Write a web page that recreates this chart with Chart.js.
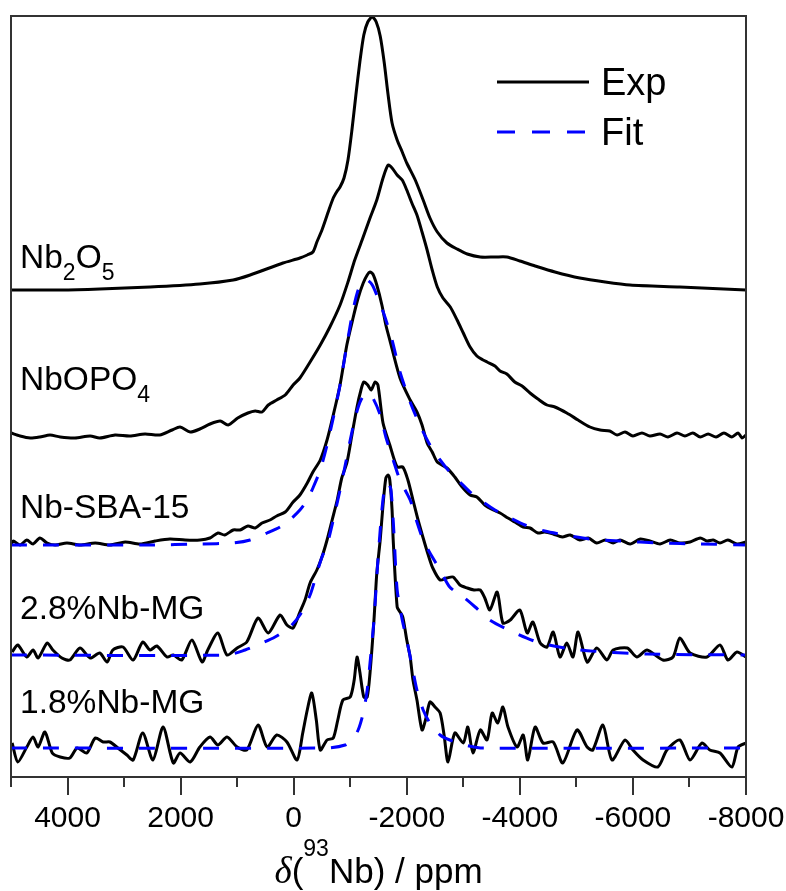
<!DOCTYPE html>
<html>
<head>
<meta charset="utf-8">
<title>93Nb NMR spectra</title>
<script src="https://cdn.jsdelivr.net/npm/chart.js@4.4.1/dist/chart.umd.min.js"></script>
<style>
    html, body { margin: 0; padding: 0; background: #fff; }
    #wrap { width: 786px; height: 891px; position: relative; }
</style>
</head>
<body>
<div id="wrap"><canvas id="nmr-chart"></canvas></div>
<script>
// chemical shift range (ppm), drawn reversed as usual for NMR
const xMin = -8000;
const xMax = 5000;
const yMax = 761;

// vertical offsets used to stack the spectra (a.u.)
const offsets = [487, 340, 232, 122, 29];

// Nb2O5, experimental
const nb2o5Ppm = [5000, 4130, 3430, 2540, 1660, 1070, 770, 190, -110, -240,
    -340, -410, -500, -610, -700, -770, -820, -890, -960, -1030,
    -1100, -1170, -1240, -1310, -1390, -1460, -1530, -1600, -1670, -1740,
    -1830, -1920, -2000, -2150, -2290, -2410, -2540, -2710, -2890, -3070,
    -3300, -3560, -3770, -4000, -4270, -4620, -5060, -5510, -5950, -6830, -8000];
const nb2o5Int = [0, 0, 1, 3, 6, 10, 15, 27, 32, 35,
    38, 48, 60, 78, 92, 99, 103, 112, 130, 160,
    195, 228, 255, 268, 273, 268, 254, 228, 195, 167,
    150, 138, 127, 110, 90, 72, 58, 47, 41, 36,
    33, 33, 33, 29, 24, 18, 12, 8, 5, 3, 0];

// NbOPO4, experimental
const nbopo4Ppm = [5000, 4840, 4660, 4490, 4310, 4130, 3870, 3600, 3430, 3160,
    2900, 2630, 2370, 2150, 2010, 1830, 1660, 1480, 1300, 1160,
    990, 810, 680, 560, 450, 300, 150, 10, -110, -290,
    -470, -640, -820, -960, -1080, -1210, -1350, -1470, -1580, -1670,
    -1740, -1830, -1920, -2000, -2090, -2180, -2270, -2360, -2450, -2540,
    -2640, -2770, -2890, -3000, -3120, -3240, -3350, -3420, -3560, -3650,
    -3770, -3910, -4040, -4180, -4320, -4480, -4620, -4830, -5030, -5240,
    -5420, -5590, -5720, -5860, -6000, -6160, -6300, -6480, -6620, -6780,
    -6920, -7060, -7190, -7330, -7470, -7610, -7750, -7860, -7930, -8000];
const nbopo4Int = [4, 1, -1, 0, 2, 0, -1, 1, -1, 2,
    1, 3, 2, 7, 10, 5, 8, 13, 16, 12,
    19, 24, 26, 25, 32, 37, 42, 52, 59, 75,
    92, 110, 132, 155, 177, 197, 219, 237, 259, 272,
    269, 262, 257, 247, 234, 222, 205, 187, 167, 150,
    139, 130, 117, 104, 90, 81, 77, 75, 71, 66,
    63, 55, 51, 44, 38, 32, 30, 24, 17, 10,
    7, 6, 2, 5, 1, 4, 1, 3, 0, 4,
    1, 4, 0, 3, 0, 4, 0, 4, -1, 2];

// Nb-SBA-15, experimental and fit
const sbaPpm = [5000, 4960, 4840, 4720, 4610, 4490, 4360, 4220, 4010, 3780,
    3510, 3250, 2980, 2720, 2450, 2190, 1920, 1660, 1480, 1340,
    1220, 1070, 950, 810, 680, 560, 420, 300, 150, 10,
    -110, -240, -340, -470, -590, -700, -820, -940, -1050, -1140,
    -1230, -1300, -1350, -1400, -1470, -1560, -1630,
    -1700, -1880, -2060, -2180, -2270, -2360, -2450, -2540, -2710, -2850,
    -2980, -3120, -3240, -3380, -3530, -3650, -3790, -3910, -4060, -4180,
    -4320, -4440, -4590, -4750, -4890, -5060, -5210, -5360, -5510, -5650,
    -5770, -5950, -6130, -6300, -6480, -6660, -6830, -7010, -7190, -7310,
    -7420, -7540, -7680, -7840, -8000];
const sbaInt = [0, 4, 0, 5, 1, 7, 2, 0, 2, 0,
    2, 0, 3, 1, 4, 6, 5, 5, 7, 12,
    10, 15, 15, 19, 17, 22, 25, 29, 33, 43,
    50, 62, 73, 85, 105, 130, 160, 200, 227, 247,
    262, 270, 273, 271, 260, 240, 220,
    205, 167, 145, 133, 120, 102, 93, 83, 77, 68,
    58, 50, 48, 40, 35, 32, 27, 23, 18, 17,
    12, 13, 11, 8, 10, 5, 7, 2, 5, 2,
    5, 1, 6, 4, 1, 5, 2, 3, 7, 4,
    5, 2, 5, 1, 3];
const sbaFitPpm = [5000, 2540, 1660, 1070, 770, 470, 240, 70, -110, -240,
    -340, -470, -590, -700, -820, -940, -1050, -1140, -1230, -1300,
    -1390, -1490, -1620, -1740, -1880, -2060, -2230, -2410, -2590, -2760,
    -2940, -3120, -3300, -3560, -3830, -4090, -4440, -4800, -5240, -5770,
    -6480, -7190, -8000];
const sbaFitInt = [0, 0, 1, 2, 5, 12, 18, 25, 35, 45,
    57, 75, 100, 127, 160, 200, 235, 255, 264, 265,
    260, 247, 227, 205, 173, 143, 120, 100, 85, 73,
    63, 53, 45, 35, 27, 20, 14, 10, 6, 4,
    2, 1, 0];

// 2.8%Nb-MG, experimental and fit
const mg28Ppm = [4980, 4880, 4720, 4610, 4520, 4360, 4260, 4100, 3960, 3780,
    3600, 3430, 3300, 3200, 3020, 2840, 2670, 2540, 2420, 2240,
    2130, 1980, 1800, 1620, 1520, 1340, 1180, 1000, 830, 630,
    450, 240, 120, 10, -110, -200, -290, -410, -500, -590,
    -680, -770, -850, -940, -1030, -1120, -1190, -1240, -1310, -1370,
    -1440, -1490, -1580, -1700, -1830, -1930, -2020, -2110, -2200, -2290,
    -2380, -2460, -2590, -2710, -2820, -2940, -3070, -3190, -3300, -3380,
    -3470, -3600, -3700, -3830, -4000, -4130, -4230, -4360, -4480, -4590,
    -4710, -4830, -4940, -5030, -5190, -5360, -5540, -5650, -5900, -6070,
    -6250, -6530, -6710, -6830, -7010, -7310, -7540, -7680, -7840, -8000];
const mg28Int = [3, 10, -2, 5, -3, 12, 5, -3, -5, 7,
    -3, 2, -7, 5, 8, -5, 13, 5, 9, -2,
    0, -5, 15, -7, 5, 22, 0, 7, 13, 37,
    22, 40, 30, 27, 43, 55, 72, 85, 98, 115,
    135, 155, 177, 192, 220, 248, 265, 273, 270, 265,
    273, 270, 232, 210, 188, 188, 175, 155, 135, 117,
    100, 87, 75, 77, 78, 70, 67, 65, 65, 57,
    45, 63, 32, 35, 45, 22, 33, 12, 8, 23,
    -2, 12, -2, 23, -7, 7, -5, 5, 7, -2,
    5, -5, -2, 17, 2, -2, 10, -5, 3, -2];
const mg28FitPpm = [5000, 1180, 860, 600, 330, 70, -110, -290, -410, -500,
    -590, -700, -820, -930, -1000, -1100, -1190, -1300, -1400, -1530,
    -1630, -1760, -1880, -2060, -2180, -2290, -2410, -2590, -2760, -3000,
    -3210, -3470, -3880, -4360, -5060, -6250, -8000];
const mg28FitInt = [0, 0, 5, 11, 18, 28, 40, 60, 82, 98,
    110, 135, 165, 195, 215, 240, 255, 262, 257, 240,
    218, 195, 175, 155, 133, 115, 102, 85, 68, 58,
    48, 35, 23, 12, 5, 1, 0];

// 1.8%Nb-MG, experimental and fit
const mg18Ppm = [4980, 4880, 4720, 4610, 4520, 4400, 4270, 4130, 3960, 3830,
    3660, 3510, 3370, 3250, 3110, 2950, 2840, 2670, 2490, 2310,
    2130, 2010, 1830, 1660, 1480, 1340, 1180, 1000, 830, 630,
    470, 300, 120, -60, -160, -240, -320, -400, -470, -590,
    -700, -780, -870, -1000, -1070, -1120, -1170, -1240, -1300, -1350,
    -1420, -1470, -1530, -1580, -1630, -1670, -1700, -1740, -1760, -1830,
    -1880, -1930, -2000, -2060, -2110, -2180, -2270, -2340, -2410, -2500,
    -2590, -2660, -2730, -2850, -3000, -3080, -3170, -3300, -3420, -3510,
    -3610, -3700, -3790, -3950, -4060, -4140, -4270, -4410, -4590, -4760,
    -5010, -5190, -5290, -5470, -5630, -5860, -6000, -6180, -6440, -6600,
    -6830, -7010, -7220, -7360, -7540, -7750, -7860, -8000];
const mg18Int = [5, -14, 1, 11, 1, 16, -5, -9, -10, 0,
    -5, 10, 6, 6, 0, -7, -12, 15, -12, 21,
    -15, -5, -14, 1, 11, 3, 11, 1, -2, 23,
    1, 13, 6, -12, 15, 38, 55, 28, -2, 8,
    10, 28, 48, 51, 68, 91, 76, 51, 51, 75,
    128, 175, 208, 243, 270, 273, 268, 238, 208, 141,
    136, 131, 108, 91, 68, 48, 18, 30, 46, 41,
    35, 13, -14, 15, 5, 21, -5, 18, 8, 35,
    25, 41, 21, 1, 13, -12, 21, 5, 6, -15,
    18, 1, -2, 23, -12, 8, -2, -12, -19, -2,
    8, -12, 5, -2, -5, -19, 1, 5];
const mg18FitPpm = [5000, -590, -910, -1030, -1140, -1230, -1300, -1350, -1420, -1490,
    -1560, -1610, -1670, -1720, -1770, -1830, -1920, -2000, -2090, -2180,
    -2290, -2410, -2590, -2760, -3030, -3350, -8000];
const mg18FitInt = [0, 0, 3, 8, 18, 35, 58, 85, 128, 188,
    238, 260, 265, 258, 218, 158, 128, 108, 83, 58,
    38, 25, 13, 8, 3, 0, 0];

// sample names; second entry of a part marks a subscript
const sampleLabels = [
    [['Nb'], ['2', 'sub'], ['O'], ['5', 'sub']],
    [['NbOPO'], ['4', 'sub']],
    [['Nb-SBA-15']],
    [['2.8%Nb-MG']],
    [['1.8%Nb-MG']]
];

// styling / placement
const labelPpm = 4840;
const labelLift = [22, 47, 27, 36, 35];
const expColor = '#000000';
const fitColor = '#0000ff';
const fitDash = [16, 16];
const frameColor = '#333333';
const sans = "'Liberation Sans', Arial, sans-serif";

function toPoints(ppm, vals, offset) {
    return ppm.map((p, i) => ({ x: p, y: vals[i] + offset }));
}

function expSet(label, ppm, vals, offset) {
    return {
        label: label,
        data: toPoints(ppm, vals, offset),
        borderColor: expColor,
        borderWidth: 3,
        pointRadius: 0,
        tension: 0.25,
        fill: false
    };
}

function fitSet(label, ppm, vals, offset) {
    return {
        label: label,
        data: toPoints(ppm, vals, offset),
        borderColor: fitColor,
        borderWidth: 3,
        borderDash: fitDash,
        pointRadius: 0,
        tension: 0.25,
        fill: false
    };
}

function drawParts(ctx, parts, x, y, size) {
    let cx = x;
    parts.forEach(p => {
        const sub = p[1] === 'sub';
        ctx.font = (sub ? Math.round(size * 0.7) : size) + 'px ' + sans;
        ctx.fillText(p[0], cx, sub ? y + 12 : y);
        cx += ctx.measureText(p[0]).width;
    });
}

const overlayPlugin = {
    id: 'overlay',
    afterDraw(chart) {
        const ctx = chart.ctx;
        const a = chart.chartArea;
        const xs = chart.scales.x;
        const ys = chart.scales.y;
        ctx.save();

        // frame
        ctx.strokeStyle = frameColor;
        ctx.lineWidth = 2;
        ctx.strokeRect(a.left, a.top, a.right - a.left, a.bottom - a.top);

        // major / minor tick marks, pointing outward
        xs.ticks.forEach(t => {
            const px = Math.round(xs.getPixelForValue(t.value));
            const len = t.value % 2000 === 0 ? 18 : 10;
            ctx.beginPath();
            ctx.moveTo(px, a.bottom);
            ctx.lineTo(px, a.bottom + len);
            ctx.stroke();
        });

        // sample names
        ctx.fillStyle = '#000';
        ctx.textBaseline = 'alphabetic';
        ctx.textAlign = 'left';
        sampleLabels.forEach((parts, i) => {
            drawParts(ctx, parts, xs.getPixelForValue(labelPpm),
                ys.getPixelForValue(offsets[i] + labelLift[i]), 33.5);
        });

        // legend
        const lx = a.right - 249;
        const legendItems = [
            { text: 'Exp', color: expColor, dash: [] },
            { text: 'Fit', color: fitColor, dash: [18, 17] }
        ];
        legendItems.forEach((it, i) => {
            const ly = a.top + 66 + i * 50;
            ctx.strokeStyle = it.color;
            ctx.lineWidth = 3;
            ctx.setLineDash(it.dash);
            ctx.beginPath();
            ctx.moveTo(lx, ly);
            ctx.lineTo(lx + 92, ly);
            ctx.stroke();
            ctx.setLineDash([]);
            ctx.font = '38px ' + sans;
            ctx.fillText(it.text, lx + 104, ly + 13);
        });

        // axis title: δ(93Nb) / ppm
        const ty = a.bottom + 106;
        const pieces = [
            { t: 'δ', font: "italic 37px 'Liberation Serif', serif", dy: 0 },
            { t: '(', font: '35px ' + sans, dy: 0 },
            { t: '93', font: '23px ' + sans, dy: -27 },
            { t: 'Nb) / ppm', font: '35px ' + sans, dy: 0 }
        ];
        let total = 0;
        pieces.forEach(p => { ctx.font = p.font; p.w = ctx.measureText(p.t).width; total += p.w; });
        let tx = (a.left + a.right) / 2 - total / 2;
        pieces.forEach(p => {
            ctx.font = p.font;
            ctx.fillText(p.t, tx, ty + p.dy);
            tx += p.w;
        });
        ctx.restore();
    }
};

const datasets = [
    fitSet('Nb-SBA-15 fit', sbaFitPpm, sbaFitInt, offsets[2]),
    fitSet('2.8%Nb-MG fit', mg28FitPpm, mg28FitInt, offsets[3]),
    fitSet('1.8%Nb-MG fit', mg18FitPpm, mg18FitInt, offsets[4]),
    expSet('Nb2O5', nb2o5Ppm, nb2o5Int, offsets[0]),
    expSet('NbOPO4', nbopo4Ppm, nbopo4Int, offsets[1]),
    expSet('Nb-SBA-15', sbaPpm, sbaInt, offsets[2]),
    expSet('2.8%Nb-MG', mg28Ppm, mg28Int, offsets[3]),
    expSet('1.8%Nb-MG', mg18Ppm, mg18Int, offsets[4])
];

const ctx = document.getElementById('nmr-chart').getContext('2d');
const nmrChart = new Chart(ctx, {
    type: 'line',
    data: { datasets: datasets },
    options: {
        responsive: true,
        maintainAspectRatio: false,
        animation: false,
        devicePixelRatio: 1,
        layout: { autoPadding: false, padding: { left: 11, right: 40, top: 16, bottom: 0 } },
        plugins: {
            legend: { display: false },
            tooltip: { enabled: false }
        },
        scales: {
            x: {
                type: 'linear',
                min: xMin,
                max: xMax,
                reverse: true,
                grid: { display: false, drawTicks: false },
                border: { display: false },
                ticks: {
                    stepSize: 1000,
                    autoSkip: false,
                    maxRotation: 0,
                    padding: 24,
                    color: '#000',
                    font: { family: sans, size: 30 },
                    callback: (v) => (v % 2000 === 0 ? String(v) : '')
                },
                afterFit: (scale) => {
                    scale.height = 114;
                    scale.paddingLeft = 0;
                    scale.paddingRight = 0;
                }
            },
            y: {
                display: false,
                min: 0,
                max: yMax
            }
        }
    },
    plugins: [overlayPlugin]
});
</script>
</body>
</html>
